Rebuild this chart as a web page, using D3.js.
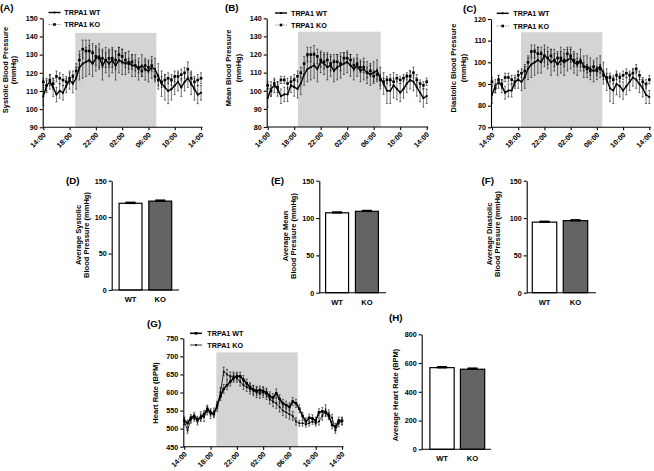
<!DOCTYPE html>
<html><head><meta charset="utf-8">
<script src="https://cdn.jsdelivr.net/npm/d3@7"></script>
<style>
body{margin:0;background:#fff}
svg{display:block;font-family:"Liberation Sans",Arial,sans-serif;font-weight:bold}
</style></head><body>
<svg id="c" width="654" height="471"></svg>
<script>
// ---------- DATA ----------
const hours = [0,0.5,1,1.5,2,2.5,3,3.5,4,4.5,5,5.5,6,6.5,7,7.5,8,8.5,9,9.5,10,10.5,11,11.5,12,12.5,13,13.5,14,14.5,15,15.5,16,16.5,17,17.5,18,18.5,19,19.5,20,20.5,21,21.5,22,22.5,23,23.5,24];
const timeTickHours = [0,4,8,12,16,20,24];
const timeTickLabels = ["14:00","18:00","22:00","02:00","06:00","10:00","14:00"];
const seriesNames = ["TRPA1 WT","TRPA1 KO"];

const sysWT    = [107,113,115,112,108,110,109,113,116,114,117,123,125,126,127,125,128,129,124,127,125,127,124,127,126,125,126,124,124,122,124,122,121,123,122,118,114,112,110,111,113,115,112,115,117,114,111,108,109];
const sysWTErr = [5,4,4,5,4,4,4,4,5,5,6,7,8,8,8,7,7,7,8,7,7,7,8,7,7,6,6,6,6,6,6,6,6,6,6,7,7,7,7,6,5,5,5,5,5,6,6,5,4];
const sysKO    = [115,113,116,114,118,117,116,115,117,118,121,127,133,132,132,131,129,128,128,127,128,128,127,130,129,127,125,126,124,123,121,124,123,124,118,116,115,116,117,116,118,118,119,120,122,117,115,116,117];
const sysKOErr = [2,3,3,3,3,3,3,3,3,3,4,5,5,6,6,5,5,5,5,4,5,5,5,4,4,4,3,4,3,3,3,3,3,3,3,3,3,3,3,3,3,3,3,3,4,4,3,3,3];

const meanWT    = [96,101,103,101,97,98,98,103,102,101,104,109,112,113,114,112,116,115,113,114,111,113,114,115,116,114,112,114,111,112,110,109,110,111,107,104,100,100,103,101,99,101,104,106,105,102,99,96,97];
const meanWTErr = [5,4,4,4,4,4,4,4,5,5,6,6,7,7,7,7,6,6,7,6,6,7,7,6,6,6,6,6,6,6,6,6,6,6,6,6,7,7,7,6,5,5,5,5,5,5,5,5,4];
const meanKO    = [103,100,104,102,106,106,104,105,106,108,110,115,120,120,120,119,117,116,117,115,116,116,115,118,118,117,114,115,113,113,110,111,108,109,106,105,106,106,105,107,106,107,108,108,110,106,104,103,105];
const meanKOErr = [2,3,2,3,2,2,3,3,3,3,3,4,4,4,5,4,4,4,4,4,4,4,4,3,3,3,3,3,3,3,3,3,3,3,3,2,2,3,2,2,2,2,2,3,3,3,2,2,2];

const diaWT    = [85,89,91,89,86,87,87,91,92,91,93,97,99,100,101,100,103,102,100,101,99,101,100,101,102,100,99,101,98,98,97,96,97,98,95,92,88,87,90,89,87,89,91,93,92,90,88,85,84];
const diaWTErr = [4,3,3,3,3,3,3,3,4,4,5,5,6,6,6,5,5,5,6,5,5,6,6,5,5,5,5,5,5,5,5,5,5,5,5,5,6,6,5,5,4,4,4,4,4,4,4,4,3];
const diaKO    = [91,88,92,90,93,93,92,91,94,95,96,100,105,105,104,104,103,102,103,101,102,102,101,104,103,101,100,100,98,97,96,98,96,97,94,93,93,92,94,93,94,95,94,95,97,94,91,90,92];
const diaKOErr = [2,2,2,2,2,2,2,2,2,2,3,3,3,3,3,3,3,3,3,3,3,3,3,3,3,3,2,2,2,2,2,2,2,2,2,2,2,2,2,2,2,2,2,2,2,2,2,2,2];

const hrWT    = [522,515,530,535,525,530,540,555,545,540,565,590,610,620,630,640,645,645,635,625,615,608,605,606,604,600,590,585,598,582,570,565,560,575,570,555,535,520,530,528,522,545,548,545,535,510,505,522,522];
const hrWTErr = [10,9,9,10,9,10,10,10,10,10,11,12,12,12,12,12,11,11,12,12,12,12,12,12,12,12,12,12,12,12,11,11,11,11,11,11,10,10,10,10,10,10,10,10,10,10,10,10,10];
const hrKO    = [520,495,525,530,520,535,532,550,540,545,560,600,658,650,645,645,640,630,620,615,610,605,600,598,600,595,582,575,570,560,550,545,540,535,520,515,515,512,515,520,515,520,535,550,540,530,495,515,520];
const hrKOErr = [10,8,10,10,10,12,12,12,12,12,12,14,12,14,12,12,12,12,12,12,14,14,14,14,14,14,14,14,14,14,14,14,14,12,10,8,8,8,8,8,8,10,12,16,12,10,8,10,10];

const barGroups = ["WT","KO"];
const avgSys = [119,122];   const avgSysErr = [1.2,1.2];
const avgMean = [107,109];  const avgMeanErr = [1.0,1.0];
const avgDia = [94.5,96.5]; const avgDiaErr = [1.0,1.0];
const avgHR = [568,557];    const avgHRErr = [6,7];

// ---------- DRAW ----------
const svg = d3.select("#c");
svg.append("rect").attr("width",654).attr("height",471).attr("fill","#fff");
const FS_TICK = 7.2, FS_TITLE = 7.5, FS_LEG = 7.2, FS_PANEL = 9.8;

function panelLabel(txt,x,y){
  svg.append("text").attr("x",x).attr("y",y).attr("font-size",FS_PANEL).text(txt);
}
function yTitle(lines,xs,cy){
  lines.forEach((t,i)=>{
    svg.append("text").attr("transform",`translate(${xs[i]},${cy}) rotate(-90)`)
      .attr("text-anchor","middle").attr("dominant-baseline","central")
      .attr("font-size",FS_TITLE).text(t);
  });
}
function styleAxis(sel){
  sel.selectAll("path,line").attr("stroke","#000").attr("stroke-width",1.1);
  sel.selectAll("text").attr("font-size",FS_TICK).attr("font-weight","bold").attr("fill","#000")
     .attr("font-family",'"Liberation Sans",Arial,sans-serif');
}

function linePanel(o){
  const g = svg.append("g");
  const x = d3.scaleLinear().domain([0,24]).range([o.x0,o.x1]);
  const y = d3.scaleLinear().domain(o.yDomain).range([o.yB,o.yT]);
  g.append("rect").attr("x",x(o.shade[0])).attr("width",x(o.shade[1])-x(o.shade[0]))
    .attr("y",y(o.shadeTop)).attr("height",y(o.yDomain[0])-y(o.shadeTop)).attr("fill","#d4d4d4");

  const yAx = g.append("g").attr("transform",`translate(${o.ax},0)`)
    .call(d3.axisLeft(y).tickValues(o.yTicks).tickSize(3).tickSizeOuter(0).tickPadding(2));
  styleAxis(yAx);
  const xAx = g.append("g").attr("transform",`translate(0,${o.yB})`)
    .call(d3.axisBottom(x).tickValues(timeTickHours).tickFormat((d,i)=>timeTickLabels[i]).tickSize(3).tickSizeOuter(0));
  xAx.select(".domain").remove();
  xAx.append("line").attr("x1",o.ax).attr("x2",o.x1+1.5).attr("y1",0).attr("y2",0);
  styleAxis(xAx);
  xAx.selectAll("text").attr("y",null).attr("dy",null).attr("text-anchor","end")
     .attr("transform","translate(2.5,8) rotate(-45)");

  const series = [
    {v:o.wt, e:o.wtErr, wt:true},
    {v:o.ko, e:o.koErr, wt:false}
  ];
  series.forEach(s=>{
    const eg = g.append("g").attr("stroke","#000").attr("stroke-width",0.55);
    hours.forEach((h,i)=>{
      const cx = x(h), y1 = y(s.v[i]-s.e[i]), y2 = y(s.v[i]+s.e[i]);
      eg.append("line").attr("x1",cx).attr("x2",cx).attr("y1",y1).attr("y2",y2);
      eg.append("line").attr("x1",cx-1).attr("x2",cx+1).attr("y1",y1).attr("y2",y1);
      eg.append("line").attr("x1",cx-1).attr("x2",cx+1).attr("y1",y2).attr("y2",y2);
    });
  });
  const line = d3.line().x((d,i)=>x(hours[i])).y(d=>y(d));
  series.forEach(s=>{
    const st = o.style(s.wt);
    g.append("path").attr("d",line(s.v)).attr("fill","none").attr("stroke",st.stroke)
      .attr("stroke-width",st.w).attr("stroke-dasharray",st.dash||null);
    const mg = g.append("g").attr("fill","#000");
    s.v.forEach((v,i)=>{
      if(st.square) mg.append("rect").attr("x",x(hours[i])-st.m).attr("y",y(v)-st.m).attr("width",2*st.m).attr("height",2*st.m);
      else mg.append("circle").attr("cx",x(hours[i])).attr("cy",y(v)).attr("r",st.m);
    });
  });
  [true,false].forEach((wt,k)=>{
    const st = o.style(wt), ly = o.ly[k];
    g.append("line").attr("x1",o.lx).attr("x2",o.lx+12).attr("y1",ly).attr("y2",ly)
      .attr("stroke",st.stroke).attr("stroke-width",st.w).attr("stroke-dasharray",st.dash||null);
    if(st.square) g.append("rect").attr("x",o.lx+6-st.m).attr("y",ly-st.m).attr("width",2*st.m).attr("height",2*st.m);
    else g.append("circle").attr("cx",o.lx+6).attr("cy",ly).attr("r",st.m);
    g.append("text").attr("x",o.tx).attr("y",ly).attr("dominant-baseline","central")
      .attr("font-size",FS_LEG).text(seriesNames[k]);
  });
  panelLabel(o.label,o.lbx,o.lby);
  yTitle(o.title,o.titleX,o.titleY);
}

const bpStyle = wt => wt ? {stroke:"#000",w:1.4,m:1.1,square:false}
                         : {stroke:"#777",w:0.8,m:1.3,square:true,dash:"1.5,1.2"};
const hrStyle = wt => wt ? {stroke:"#000",w:1.5,m:1.3,square:true}
                         : {stroke:"#000",w:0.8,m:1.0,square:false};

linePanel({label:"(A)",lbx:0,lby:11,ax:42.7,x0:43.3,x1:201,yT:18.3,yB:127.3,yDomain:[90,150],
  yTicks:[90,100,110,120,130,140,150],shade:[4.86,17.2],shadeTop:142,
  wt:sysWT,wtErr:sysWTErr,ko:sysKO,koErr:sysKOErr,style:bpStyle,
  lx:48.5,tx:64.3,ly:[12.5,24.5],title:["Systolic Blood Pressure","(mmHg)"],titleX:[5,13.5],titleY:70});
linePanel({label:"(B)",lbx:225,lby:11,ax:266.7,x0:267.7,x1:426.7,yT:18.3,yB:127,yDomain:[80,140],
  yTicks:[80,90,100,110,120,130,140],shade:[4.57,17.06],shadeTop:132.6,
  wt:meanWT,wtErr:meanWTErr,ko:meanKO,koErr:meanKOErr,style:bpStyle,
  lx:275,tx:291,ly:[13,25],title:["Mean Blood Pressure","(mmHg)"],titleX:[228.5,238],titleY:68});
linePanel({label:"(C)",lbx:463,lby:11.5,ax:491,x0:492,x1:649.3,yT:19,yB:127.3,yDomain:[70,120],
  yTicks:[70,80,90,100,110,120],shade:[4.43,16.84],shadeTop:113.9,
  wt:diaWT,wtErr:diaWTErr,ko:diaKO,koErr:diaKOErr,style:bpStyle,
  lx:496.7,tx:513.3,ly:[13.3,26],title:["Diastolic Blood Pressure","(mmHg)"],titleX:[453.5,463.5],titleY:68});
linePanel({label:"(G)",lbx:147,lby:327,ax:183.3,x0:184.3,x1:342,yT:338.3,yB:446.7,yDomain:[450,750],
  yTicks:[450,500,550,600,650,700,750],shade:[4.87,17.26],shadeTop:711,
  wt:hrWT,wtErr:hrWTErr,ko:hrKO,koErr:hrKOErr,style:hrStyle,
  lx:190,tx:207.3,ly:[333.3,345],title:["Heart Rate (BPM)"],titleX:[155],titleY:393});

function barPanel(o){
  const g = svg.append("g");
  const x = d3.scaleBand().domain(barGroups).range(o.range).paddingInner(o.pad).paddingOuter(0);
  const y = d3.scaleLinear().domain([0,o.max]).range([o.yB,o.yT]);
  const fills = ["#ffffff","#646464"];
  barGroups.forEach((k,i)=>{
    const v = o.vals[i], e = o.errs[i], cx = x(k)+x.bandwidth()/2;
    g.append("line").attr("x1",cx).attr("x2",cx).attr("y1",y(v)).attr("y2",y(v+e)).attr("stroke","#000").attr("stroke-width",1.2);
    g.append("line").attr("x1",cx-5).attr("x2",cx+5).attr("y1",y(v+e)).attr("y2",y(v+e)).attr("stroke","#000").attr("stroke-width",1.6);
    g.append("rect").attr("x",x(k)+0.6).attr("width",x.bandwidth()-1.2).attr("y",y(v)).attr("height",y(0)-y(v))
      .attr("fill",fills[i]).attr("stroke","#000").attr("stroke-width",1.2);
    g.append("line").attr("x1",cx-5).attr("x2",cx+5).attr("y1",y(v)).attr("y2",y(v)).attr("stroke","#000").attr("stroke-width",1.6);
    g.append("text").attr("x",cx).attr("y",o.yB+9.5).attr("text-anchor","middle").attr("dominant-baseline","central")
      .attr("font-size",7.6).text(k);
  });
  const yAx = g.append("g").attr("transform",`translate(${o.ax},0)`)
    .call(d3.axisLeft(y).tickValues(o.ticks).tickSize(3).tickSizeOuter(0).tickPadding(2));
  styleAxis(yAx);
  g.append("line").attr("x1",o.ax).attr("x2",o.xEnd).attr("y1",o.yB).attr("y2",o.yB).attr("stroke","#000").attr("stroke-width",1.1);
  panelLabel(o.label,o.lbx,o.lby);
  yTitle(o.title,o.titleX,o.titleY);
}

barPanel({label:"(D)",lbx:66,lby:184,ax:111.7,range:[118.5,172.3],pad:0.19,yT:180.7,yB:290,max:150,ticks:[0,50,100,150],
  vals:avgSys,errs:avgSysErr,xEnd:179,title:["Average Systolic","Blood Pressure (mmHg)"],titleX:[78.3,86.7],titleY:235});
barPanel({label:"(E)",lbx:271,lby:184,ax:319.3,range:[325,379],pad:0.19,yT:180.7,yB:292.7,max:150,ticks:[0,50,100,150],
  vals:avgMean,errs:avgMeanErr,xEnd:386,title:["Average Mean","Blood Pressure (mmHg)"],titleX:[285,293.3],titleY:236});
barPanel({label:"(F)",lbx:481.5,lby:184,ax:526.7,range:[531.7,588.3],pad:0.17,yT:180.7,yB:292.7,max:150,ticks:[0,50,100,150],
  vals:avgDia,errs:avgDiaErr,xEnd:596,title:["Average Diastolic","Blood Pressure (mmHg)"],titleX:[489.3,497],titleY:234});
barPanel({label:"(H)",lbx:389,lby:321,ax:421.7,range:[429.3,485.3],pad:0.165,yT:334.3,yB:449.3,max:800,ticks:[0,200,400,600,800],
  vals:avgHR,errs:avgHRErr,xEnd:491,title:["Average Heart Rate (BPM)"],titleX:[395],titleY:395});
</script>
</body></html>
